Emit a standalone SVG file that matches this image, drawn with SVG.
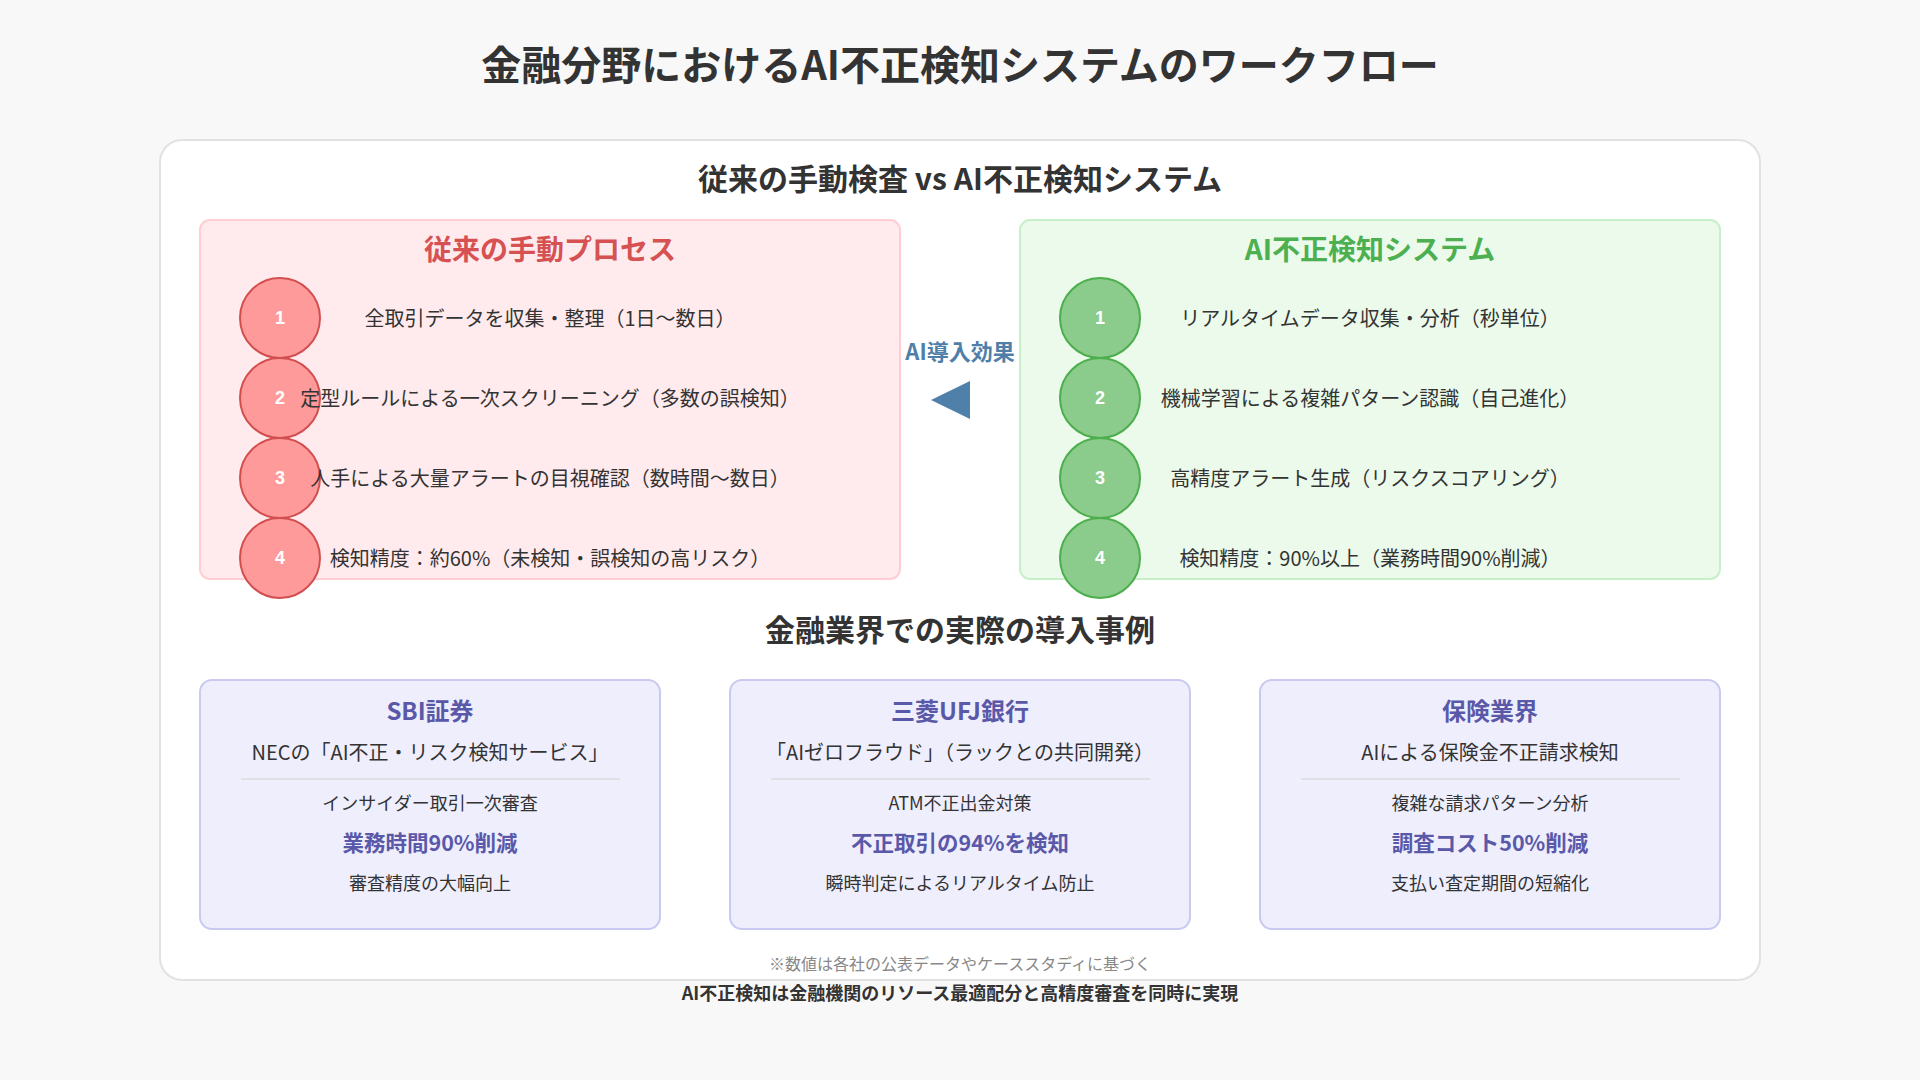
<svg xmlns="http://www.w3.org/2000/svg" width="1920" height="1080" viewBox="0 0 1920 1080">
<style>
text{font-family:"Noto Sans CJK JP","Noto Sans",sans-serif;text-anchor:middle;dominant-baseline:central;fill:#333}
.b{font-weight:700}
.h1{font-size:40px;font-weight:700}
.h2{font-size:30px;font-weight:700}
.pt{font-size:28px;font-weight:700}
.red{fill:#d65252}
.grn{fill:#4caf50}
.step{font-size:20px}
.num{font-size:18px;font-weight:700;fill:#fff;font-family:"Liberation Sans",Arial,sans-serif}
.cr{fill:#ff9a9a;stroke:#d24f4f;stroke-width:2}
.cg{fill:#8bcb8b;stroke:#4cae4c;stroke-width:2}
.card{fill:#eeeefd;stroke:#c9c9f1;stroke-width:2}
.ct{font-size:24px;font-weight:700;fill:#5a58a8}
.cs{font-size:20px}
.cb{font-size:18px}
.hl{font-size:21.5px;font-weight:700;fill:#5a58a8}
.div{stroke:#dddddd;stroke-width:1.5}
</style>
<rect x="0" y="0" width="1920" height="1080" fill="#f8f8f8"/>
<text class="h1" x="960" y="63">金融分野におけるAI不正検知システムのワークフロー</text>
<g id="main-card">
<rect x="160" y="140" width="1600" height="840" rx="22" fill="#ffffff" stroke="#e2e2e2" stroke-width="2"/>
<text class="h2" x="960" y="177">従来の手動検査 vs AI不正検知システム</text>
</g>
<g id="manual-process">
<rect x="200" y="220" width="700" height="359" rx="10" fill="#ffebee" stroke="#ffcdd2" stroke-width="2"/>
<text class="pt red" x="550" y="248">従来の手動プロセス</text>
<g id="manual-step-1"><circle class="cr" cx="280" cy="318" r="40"/><text class="num" x="280" y="318">1</text><text class="step" x="550" y="317">全取引データを収集・整理（1日〜数日）</text></g>
<g id="manual-step-2"><circle class="cr" cx="280" cy="398" r="40"/><text class="num" x="280" y="398">2</text><text class="step" x="550" y="397">定型ルールによる一次スクリーニング（多数の誤検知）</text></g>
<g id="manual-step-3"><circle class="cr" cx="280" cy="478" r="40"/><text class="num" x="280" y="478">3</text><text class="step" x="550" y="477">人手による大量アラートの目視確認（数時間〜数日）</text></g>
<g id="manual-step-4"><circle class="cr" cx="280" cy="558" r="40"/><text class="num" x="280" y="558">4</text><text class="step" x="550" y="557">検知精度：約60%（未検知・誤検知の高リスク）</text></g>
</g>
<g id="ai-system">
<rect x="1020" y="220" width="700" height="359" rx="10" fill="#ebfaeb" stroke="#c8f0c8" stroke-width="2"/>
<text class="pt grn" x="1370" y="248">AI不正検知システム</text>
<g id="ai-step-1"><circle class="cg" cx="1100" cy="318" r="40"/><text class="num" x="1100" y="318">1</text><text class="step" x="1370" y="317">リアルタイムデータ収集・分析（秒単位）</text></g>
<g id="ai-step-2"><circle class="cg" cx="1100" cy="398" r="40"/><text class="num" x="1100" y="398">2</text><text class="step" x="1370" y="397">機械学習による複雑パターン認識（自己進化）</text></g>
<g id="ai-step-3"><circle class="cg" cx="1100" cy="478" r="40"/><text class="num" x="1100" y="478">3</text><text class="step" x="1370" y="477">高精度アラート生成（リスクスコアリング）</text></g>
<g id="ai-step-4"><circle class="cg" cx="1100" cy="558" r="40"/><text class="num" x="1100" y="558">4</text><text class="step" x="1370" y="557">検知精度：90%以上（業務時間90%削減）</text></g>
</g>
<g id="connectors">
<text class="b" x="960" y="350" style="font-size:22px;fill:#4f7fa8">AI導入効果</text>
<polygon points="931,400 970,381 970,419" fill="#4f80a9"/>
</g>
<text class="h2" x="960" y="628">金融業界での実際の導入事例</text>
<g id="case-sbi">
<rect class="card" x="200" y="680" width="460" height="249" rx="12"/>
<text class="ct" x="430" y="709">SBI証券</text>
<text class="cs" x="430" y="751">NECの「AI不正・リスク検知サービス」</text>
<line class="div" x1="241" y1="779" x2="620" y2="779"/>
<text class="cb" x="430" y="802">インサイダー取引一次審査</text>
<text class="hl" x="430" y="841">業務時間90%削減</text>
<text class="cb" x="430" y="882">審査精度の大幅向上</text>
</g>
<g id="case-mufg">
<rect class="card" x="730" y="680" width="460" height="249" rx="12"/>
<text class="ct" x="960" y="709">三菱UFJ銀行</text>
<text class="cs" x="960" y="751">「AIゼロフラウド」（ラックとの共同開発）</text>
<line class="div" x1="771" y1="779" x2="1150" y2="779"/>
<text class="cb" x="960" y="802">ATM不正出金対策</text>
<text class="hl" x="960" y="841">不正取引の94%を検知</text>
<text class="cb" x="960" y="882">瞬時判定によるリアルタイム防止</text>
</g>
<g id="case-insurance">
<rect class="card" x="1260" y="680" width="460" height="249" rx="12"/>
<text class="ct" x="1490" y="709">保険業界</text>
<text class="cs" x="1490" y="751">AIによる保険金不正請求検知</text>
<line class="div" x1="1301" y1="779" x2="1680" y2="779"/>
<text class="cb" x="1490" y="802">複雑な請求パターン分析</text>
<text class="hl" x="1490" y="841">調査コスト50%削減</text>
<text class="cb" x="1490" y="882">支払い査定期間の短縮化</text>
</g>
<text x="960" y="963" style="font-size:16px;fill:#888">※数値は各社の公表データやケーススタディに基づく</text>
<text class="b" x="960" y="992" style="font-size:18px">AI不正検知は金融機関のリソース最適配分と高精度審査を同時に実現</text>
</svg>
